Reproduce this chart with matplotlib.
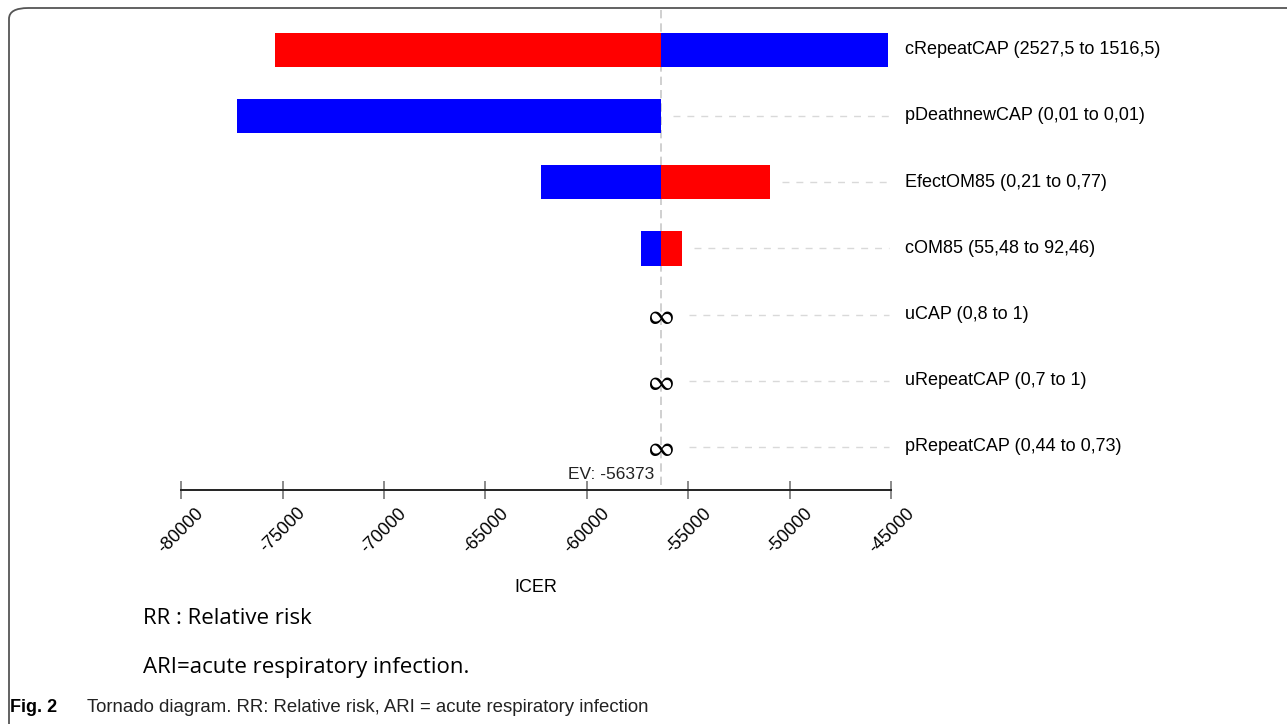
import matplotlib
matplotlib.use("Agg")
import matplotlib.pyplot as plt
from matplotlib.patches import FancyBboxPatch

# data
params = ["cRepeatCAP (2527,5 to 1516,5)", "pDeathnewCAP (0,01 to 0,01)",
          "EfectOM85 (0,21 to 0,77)", "cOM85 (55,48 to 92,46)",
          "uCAP (0,8 to 1)", "uRepeatCAP (0,7 to 1)",
          "pRepeatCAP (0,44 to 0,73)"]
ev = -56373
red_end = [-75370, None, -50985, -55320, None, None, None]
blue_end = [-45170, -77240, -62270, -57340, None, None, None]
xticks = [-80000, -75000, -70000, -65000, -60000, -55000, -50000, -45000]

W, H = 1287, 724
fig = plt.figure(figsize=(W / 100, H / 100), dpi=100)
plt.rcParams['font.family'] = ['Liberation Sans', 'DejaVu Sans']

ax = fig.add_axes([181 / W, 1 - 490 / H, 710.5 / W, 480 / H])
ax.set_xlim(-80000, -45000)
ax.set_ylim(6.65, -0.6)

bh = 0.52
for i, name in enumerate(params):
    hi = ev
    for end, col in ((red_end[i], "#ff0000"), (blue_end[i], "#0000ff")):
        if end is None:
            continue
        ax.barh(i, end - ev, left=ev, height=bh, color=col, zorder=2)
        hi = max(hi, end)
    if red_end[i] is None and blue_end[i] is None:
        # infinite ICER marker
        ax.text(ev, i + 0.02, r"$\infty$", ha="center", va="center",
                fontsize=21, math_fontfamily="stixsans", zorder=3)
        start = ev + 1400
    else:
        start = hi + 600
    if start < -45800:
        ax.plot([start, -45100], [i, i], color="#d9d9d9", lw=1,
                dashes=(5, 5), zorder=1)
    ax.text(-44350, i, name, ha="left", va="center", fontsize=13,
            clip_on=False)

ax.plot([ev, ev], [-0.6, 6.65], color="#c8c8c8", lw=1.2, dashes=(5, 3),
        zorder=1, clip_on=False)
ax.text(ev - 300, 6.42, "EV: %d" % ev, ha="right", va="center",
        fontsize=12.5, color="#222222")

for s in ["top", "right", "left"]:
    ax.spines[s].set_visible(False)
ax.spines["bottom"].set_color("#222222")
ax.spines["bottom"].set_linewidth(1.4)
ax.set_yticks([])
ax.set_xticks(xticks)
ax.set_xticklabels([str(t) for t in xticks], rotation=45, fontsize=13)
ax.tick_params(axis="x", direction="inout", length=13, width=1.2,
               color="#777777", pad=4)
ax.set_xlabel("ICER", fontsize=13, labelpad=16)

fig.text(143 / W, 1 - 619 / H, "RR : Relative risk", fontsize=16,
         family="Open Sans", va="center")
fig.text(143 / W, 1 - 667 / H, "ARI=acute respiratory infection.",
         fontsize=16, family="Open Sans", va="center")
fig.text(10 / W, 1 - 707 / H, "Fig. 2", fontsize=13, weight="bold",
         va="center")
fig.text(87 / W, 1 - 707 / H,
         "Tornado diagram. RR: Relative risk, ARI = acute respiratory infection",
         fontsize=13.4, va="center", color="#222222")

frame = FancyBboxPatch((9 / W, -0.2), 1.2, 1.2 - 8 / H,
                       boxstyle="round,pad=0,rounding_size=0.015",
                       transform=fig.transFigure, fill=False,
                       ec="#555555", lw=1.3)
fig.patches.append(frame)

fig.savefig("out.png", dpi=100)
